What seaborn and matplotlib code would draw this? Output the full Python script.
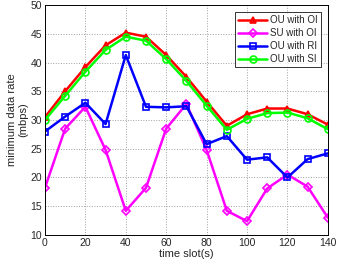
import pandas as pd
import numpy as np
import matplotlib
matplotlib.use("Agg")
import matplotlib.pyplot as plt
import seaborn as sns

time_slot = [0, 10, 20, 30, 40, 50, 60, 70, 80, 90, 100, 110, 120, 130, 140]
ou_oi = [30.5, 35.0, 39.2, 43.0, 45.2, 44.5, 41.3, 37.5, 33.2, 29.0, 31.0, 32.0, 32.0, 31.0, 29.2]
su_oi = [18.2, 28.5, 32.3, 24.8, 14.2, 18.2, 28.5, 32.8, 24.8, 14.2, 12.4, 18.1, 20.5, 18.4, 13.0]
ou_ri = [28.0, 30.6, 33.0, 29.3, 41.3, 32.3, 32.2, 32.4, 25.8, 27.2, 23.1, 23.5, 20.0, 23.2, 24.2]
ou_si = [30.0, 34.2, 38.4, 42.2, 44.5, 43.8, 40.6, 36.8, 32.5, 28.3, 30.2, 31.2, 31.3, 30.3, 28.4]

series = [
    ("OU with OI", ou_oi, "#ff0000", "^", "#ff0000"),
    ("SU with OI", su_oi, "#ff00ff", "D", "none"),
    ("OU with RI", ou_ri, "#0000ff", "s", "none"),
    ("OU with SI", ou_si, "#00ff00", "o", "none"),
]

sns.set_style("white")
plt.rcParams['font.family'] = ['Liberation Sans', 'DejaVu Sans']

fig, ax = plt.subplots(figsize=(3.38, 2.67), dpi=100)
fig.subplots_adjust(left=0.133, right=0.970, bottom=0.12, top=0.981)

for name, vals, col, mk, mfc in series:
    df = pd.DataFrame({"t": time_slot, "v": vals})
    sns.lineplot(data=df, x="t", y="v", ax=ax, color=col, marker=mk, markersize=5 if mk != "D" else 4,
                 markerfacecolor=mfc, markeredgecolor=col, markeredgewidth=1.2, linewidth=1.8, label=name)

ax.set_xlim(0, 140)
ax.set_ylim(10, 50)
ax.set_xticks(np.arange(0, 141, 20))
ax.set_yticks(np.arange(10, 51, 5))
ax.tick_params(labelsize=7.5, length=2, direction="in", pad=2)
ax.set_xlabel("time slot(s)", fontsize=8, labelpad=1)
ax.set_ylabel("minimum data rate\n(mbps)", fontsize=8, labelpad=2, linespacing=1.1)
ax.grid(True, linestyle=":", color="#a0a0a0", linewidth=0.7)
for s in ax.spines.values():
    s.set_color("black")
    s.set_linewidth(0.7)

leg = ax.legend(loc="upper right", fontsize=7, frameon=True, fancybox=False, edgecolor="black",
                borderpad=0.35, labelspacing=0.3, handlelength=3, handletextpad=0.3,
                borderaxespad=0.7)
leg.get_frame().set_linewidth(0.7)

fig.savefig("out.png", dpi=100)
